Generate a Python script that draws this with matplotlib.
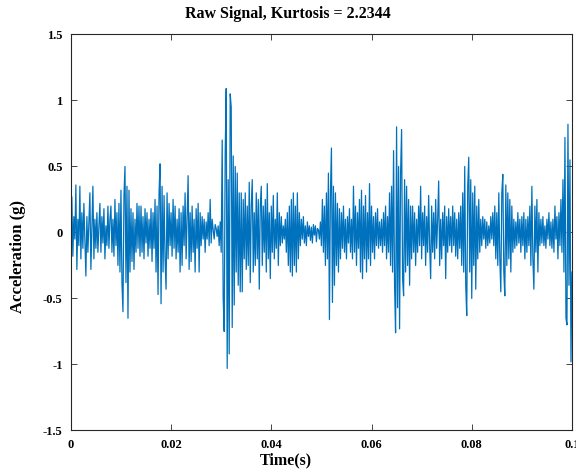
import numpy as np
import matplotlib.pyplot as plt

# acceleration samples (g), 10 samples per 2 ms block
acc = [
    0.05, 0.27, -0.18, 0.12, -0.05, 0.36, -0.28, 0.1, -0.1, 0.35,
    -0.2, 0.15, -0.12, 0.22, -0.05, -0.33, 0.12, -0.15, 0.08, 0.3,
    -0.28, 0.05, 0.35, -0.2, 0.1, -0.12, 0.15, -0.15, 0.05, 0.22,
    -0.15, 0.12, -0.08, 0.18, -0.2, 0.05, -0.1, 0.2, -0.12, 0.1,
    0.2, -0.15, 0.1, -0.18, 0.25, -0.1, 0.15, -0.25, 0.22, -0.3,
    0.32, -0.38, -0.6, 0.28, 0.5, -0.38, 0.35, -0.65, 0.32, -0.3,
    0.18, -0.22, 0.15, -0.28, 0.1, -0.15, 0.22, -0.12, 0.2, -0.18,
    0.2, -0.15, 0.12, -0.2, 0.18, -0.08, 0.15, -0.18, 0.1, -0.12,
    0.18, -0.22, 0.15, -0.12, 0.25, -0.3, 0.2, -0.47, 0.3, 0.52,
    -0.54, 0.35, -0.3, 0.28, -0.2, -0.43, 0.3, -0.2, 0.22, -0.1,
    0.15, -0.18, 0.25, -0.12, 0.2, -0.2, 0.1, -0.15, 0.18, -0.3,
    0.15, -0.25, 0.2, -0.1, 0.3, -0.2, 0.12, 0.43, -0.28, 0.15,
    -0.22, 0.2, -0.15, 0.1, -0.3, 0.18, -0.12, 0.22, -0.3, 0.15,
    -0.1, 0.12, -0.05, 0.1, -0.15, 0.08, -0.05, 0.15, -0.1, 0.25,
    -0.08, 0.1, 0.02, -0.05, 0.06, 0.03, -0.03, 0.05, -0.1, 0.08,
    -0.15, 0.7, -0.5, -0.75, 0.6, 1.09, -1.03, 0.4, -0.92, 1.05,
    0.95, -0.72, 0.58, -0.55, 0.5, -0.3, 0.45, -0.4, 0.3, -0.45,
    0.3, -0.45, 0.25, -0.2, 0.3, -0.28, 0.2, -0.25, 0.38, -0.38,
    0.2, 0.4, -0.3, 0.15, -0.25, 0.3, -0.2, 0.25, -0.43, 0.2,
    0.35, -0.25, 0.2, -0.15, 0.25, -0.3, 0.37, -0.2, 0.15, -0.35,
    0.2, -0.15, 0.28, -0.2, 0.1, -0.12, 0.3, -0.25, 0.15, -0.1,
    0.12, -0.08, 0.05, -0.05, 0.1, -0.15, 0.15, -0.25, 0.2, -0.3,
    0.25, -0.33, 0.3, -0.25, 0.2, -0.3, 0.3, -0.2, 0.15, -0.1,
    0.1, -0.05, 0.12, -0.08, 0.05, -0.1, 0.08, -0.03, 0.05, -0.06,
    0.04, -0.08, 0.06, -0.02, 0.05, -0.07, 0.03, 0.02, -0.05, 0.08,
    -0.1, 0.25, -0.15, 0.2, -0.25, 0.3, -0.2, 0.45, -0.66, 0.3,
    0.64, -0.53, 0.35, -0.4, 0.3, -0.25, 0.22, -0.3, 0.18, -0.2,
    0.15, -0.12, 0.2, -0.15, 0.1, -0.2, 0.12, -0.08, 0.18, -0.15,
    0.1, -0.2, 0.35, -0.15, 0.2, -0.25, 0.15, -0.12, 0.25, -0.3,
    0.32, -0.35, 0.2, -0.2, 0.28, -0.3, 0.15, -0.2, 0.37, -0.25,
    0.2, -0.15, 0.12, -0.2, 0.15, -0.1, 0.18, -0.12, 0.08, -0.1,
    0.1, -0.15, 0.15, -0.1, 0.2, -0.2, 0.12, -0.15, 0.3, -0.25,
    0.35, -0.3, 0.62, -0.4, -0.76, 0.8, -0.57, 0.5, -0.73, 0.45,
    0.78, -0.35, -0.48, 0.4, -0.3, 0.35, -0.25, 0.25, -0.4, 0.2,
    -0.2, 0.2, -0.15, 0.15, -0.25, 0.1, -0.15, 0.2, -0.1, 0.35,
    -0.2, 0.15, -0.1, 0.2, -0.25, 0.12, -0.15, 0.28, -0.1, -0.35,
    0.2, -0.15, 0.15, -0.2, 0.25, -0.12, 0.1, 0.39, -0.25, 0.1,
    -0.2, 0.15, -0.1, 0.2, -0.35, 0.12, -0.15, 0.18, -0.1, 0.12,
    -0.15, 0.2, -0.1, 0.15, -0.18, 0.1, -0.2, 0.15, -0.12, 0.2,
    -0.25, 0.3, -0.3, 0.5, -0.4, -0.63, 0.35, 0.57, -0.3, 0.4,
    -0.5, 0.3, -0.25, 0.35, -0.43, 0.2, -0.2, 0.25, -0.15, 0.1,
    -0.1, 0.12, -0.05, 0.1, -0.12, 0.08, -0.1, 0.05, -0.08, 0.12,
    -0.05, 0.15, -0.1, 0.2, -0.2, 0.15, -0.25, 0.3, -0.2, -0.45,
    0.3, 0.44, -0.3, -0.48, 0.36, -0.25, 0.3, -0.2, 0.25, -0.3,
    0.2, -0.15, 0.1, -0.12, 0.08, -0.1, 0.15, -0.08, 0.1, -0.15,
    0.12, -0.1, 0.15, -0.2, 0.1, -0.15, 0.12, -0.1, 0.2, -0.25,
    0.35, -0.2, -0.43, 0.2, -0.15, 0.25, -0.3, 0.15, -0.1, 0.1,
    -0.08, 0.12, -0.1, 0.05, -0.12, 0.1, -0.05, 0.15, -0.1, 0.08,
    -0.12, 0.1, -0.15, 0.2, -0.05, 0.12, -0.2, 0.15, -0.1, 0.25,
    -0.15, 0.4, -0.3, 0.72, -0.65, -0.7, 0.82, -0.4, 0.55, -0.98,
    -0.3,
]
t = np.linspace(0, 0.1, len(acc))

xticks = [0, 0.02, 0.04, 0.06, 0.08, 0.1]
xticklabels = ['0', '0.02', '0.04', '0.06', '0.08', '0.1']
yticks = [-1.5, -1, -0.5, 0, 0.5, 1, 1.5]
yticklabels = ['-1.5', '-1', '-0.5', '0', '0.5', '1', '1.5']

plt.rcParams['font.family'] = ['Liberation Serif', 'DejaVu Serif']
plt.rcParams['font.weight'] = 'bold'

fig = plt.figure(figsize=(5.76, 4.72), dpi=100)
ax = fig.add_axes([0.123, 0.088, 0.870, 0.839])
ax.plot(t, acc, color='#0072BD', linewidth=0.9)

ax.set_xlim(0, 0.1)
ax.set_ylim(-1.5, 1.5)
ax.set_xticks(xticks)
ax.set_xticklabels(xticklabels, fontweight='bold')
ax.set_yticks(yticks)
ax.set_yticklabels(yticklabels, fontweight='bold')
ax.tick_params(direction='in', top=True, right=True, length=4,
               width=0.6, color='#262626', labelsize=9, pad=6)
for sp in ax.spines.values():
    sp.set_color('#262626')
    sp.set_linewidth(0.8)

# labels sit centred on the figure rather than on the axes box
fig.text(0.497, 0.025, 'Time(s)', fontsize=11.5, fontweight='bold',
         ha='center', va='center')
fig.text(0.032, 0.457, 'Acceleration (g)', fontsize=12, fontweight='bold',
         ha='center', va='center', rotation=90)
fig.text(0.5, 0.970, 'Raw Signal, Kurtosis = 2.2344', fontsize=11.5,
         fontweight='bold', ha='center', va='center')

fig.savefig('out.png', dpi=100)
